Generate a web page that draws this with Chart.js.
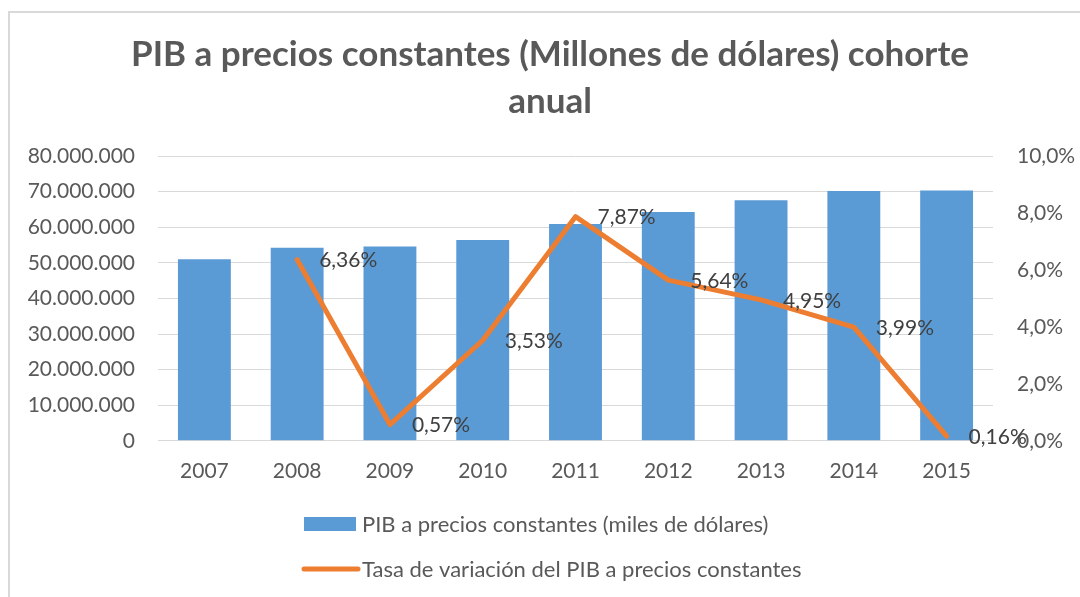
<!DOCTYPE html>
<html>
<head>
<meta charset="utf-8">
<script src="https://cdn.jsdelivr.net/npm/chart.js@4"></script>
<style>
	html, body { margin: 0; padding: 0; background: #fff; }
	#wrap { position: relative; width: 1080px; height: 597px; overflow: hidden; }
	#frame { position: absolute; left: 8px; top: 11px; width: 1200px; height: 700px; border-left: 2px solid #d9d9d9; border-top: 2px solid #d9d9d9; }
	canvas { position: absolute; left: 0; top: 0; }
</style>
</head>
<body>
<div id="wrap">
	<div id="frame"></div>
	<canvas id="pibChart" width="1080" height="597"></canvas>
</div>
<script>
// datos del grafico
var years = ['2007', '2008', '2009', '2010', '2011', '2012', '2013', '2014', '2015'];
var pibValues = [51000000, 54200000, 54600000, 56400000, 60900000, 64300000, 67600000, 70200000, 70300000];
var rateValues = [null, 6.36, 0.57, 3.53, 7.87, 5.64, 4.95, 3.99, 0.16];
var rateLabels = ['', '6,36%', '0,57%', '3,53%', '7,87%', '5,64%', '4,95%', '3,99%', '0,16%'];
var pibLabel = 'PIB a precios constantes (miles de dólares)';
var rateLabel = 'Tasa de variación del PIB a precios constantes';

var fontName = 'Lato';
var textColor = '#595959';

// etiquetas de la linea a la derecha de cada punto
var rateLabelsPlugin = {
	id: 'rateLabels',
	afterDatasetsDraw(chart) {
		var ctx = chart.ctx;
		var meta = chart.getDatasetMeta(0);
		ctx.save();
		ctx.font = '21px ' + fontName;
		ctx.fillStyle = '#404040';
		ctx.textAlign = 'left';
		ctx.textBaseline = 'middle';
		meta.data.forEach((pt, i) => {
			if (rateValues[i] == null) return;
			ctx.fillText(rateLabels[i], pt.x + 22, pt.y + 1);
		});
		ctx.restore();
	}
};

// leyenda en dos filas como en Excel
var legendPlugin = {
	id: 'twoRowLegend',
	afterDraw(chart) {
		var ctx = chart.ctx;
		var line = chart.data.datasets[0];
		var bars = chart.data.datasets[1];
		var x = 304;
		ctx.save();
		ctx.font = '22px ' + fontName;
		ctx.fillStyle = bars.backgroundColor;
		ctx.fillRect(x, 517, 52, 14);
		ctx.strokeStyle = line.borderColor;
		ctx.lineWidth = 5;
		ctx.lineCap = 'round';
		ctx.beginPath();
		ctx.moveTo(x, 569);
		ctx.lineTo(x + 54, 569);
		ctx.stroke();
		ctx.fillStyle = textColor;
		ctx.textBaseline = 'middle';
		ctx.fillText(bars.label, 362, 525);
		ctx.fillText(line.label, 362, 570);
		ctx.restore();
	}
};

var ctx = document.getElementById('pibChart').getContext('2d');
var config = {
	type: 'bar',
	data: {
		labels: years,
		datasets: [{
			type: 'line',
			label: rateLabel,
			data: rateValues,
			yAxisID: 'yRate',
			borderColor: '#ED7D31',
			backgroundColor: '#ED7D31',
			borderWidth: 5,
			borderCapStyle: 'round',
			borderJoinStyle: 'round',
			pointRadius: 0,
			spanGaps: false,
			order: 0
		}, {
			type: 'bar',
			label: pibLabel,
			data: pibValues,
			yAxisID: 'yPib',
			backgroundColor: '#5B9BD5',
			barPercentage: 0.57,
			categoryPercentage: 1,
			order: 1
		}]
	},
	options: {
		responsive: false,
		animation: false,
		layout: { padding: { left: 20, right: 0, top: 0, bottom: 95 } },
		plugins: {
			legend: { display: false },
			tooltip: { enabled: false },
			title: {
				display: true,
				text: ['PIB a precios constantes (Millones de dólares) cohorte', 'anual'],
				color: textColor,
				font: { family: fontName, size: 35, weight: 'bold', lineHeight: 1.343 },
				padding: { top: 31, bottom: 31 }
			}
		},
		scales: {
			x: {
				grid: { display: false, drawTicks: false },
				border: { display: true, color: '#d9d9d9', width: 1 },
				ticks: { color: textColor, font: { family: fontName, size: 21 }, padding: 18 }
			},
			yPib: {
				position: 'left',
				min: 0,
				max: 80000000,
				afterFit: scale => { scale.width = 138; },
				grid: { color: '#d9d9d9', lineWidth: 1, drawTicks: false },
				border: { display: false },
				ticks: {
					stepSize: 10000000,
					color: textColor,
					font: { family: fontName, size: 21 },
					padding: 23,
					callback: v => v.toLocaleString('de-DE')
				}
			},
			yRate: {
				position: 'right',
				min: 0,
				max: 10,
				afterFit: scale => { scale.width = 87; },
				grid: { display: false, drawTicks: false },
				border: { display: false },
				ticks: {
					stepSize: 2,
					color: textColor,
					font: { family: fontName, size: 21 },
					padding: 24,
					callback: v => v.toFixed(1).replace('.', ',') + '%'
				}
			}
		}
	},
	plugins: [rateLabelsPlugin, legendPlugin]
};
var pibChart = new Chart(ctx, config);
</script>
</body>
</html>
